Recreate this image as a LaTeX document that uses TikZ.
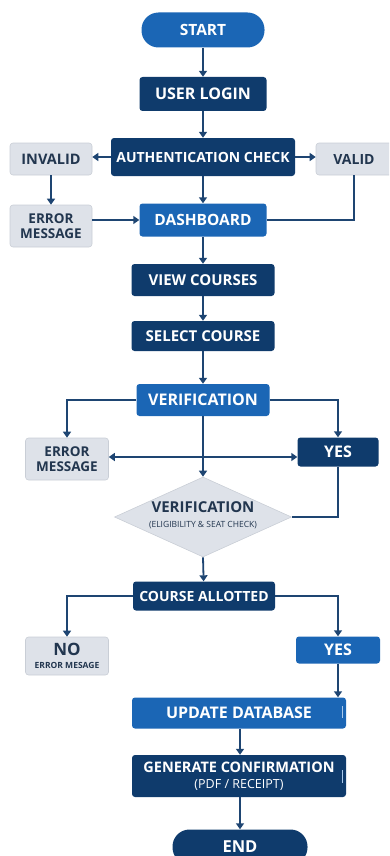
\documentclass[tikz,border=0pt]{standalone}
\usepackage{fontspec}
\setmainfont{Open Sans}
\usetikzlibrary{arrows.meta,shapes.geometric}
\definecolor{navy}{HTML}{0F3B6C}
\definecolor{bright}{HTML}{1B66B5}
\definecolor{pale}{HTML}{DEE2E9}
\definecolor{paleedge}{HTML}{C9CED6}
\definecolor{paletext}{HTML}{22364F}
\definecolor{wire}{HTML}{1E4572}
\definecolor{glint}{HTML}{A9C9EC}
\begin{document}
\begin{tikzpicture}[x=1pt,y=-1pt,
  base/.style={rectangle, rounded corners=3pt, inner sep=2pt, align=center, font=\bfseries},
  navybox/.style={base, fill=navy, text=white},
  bluebox/.style={base, fill=bright, text=white},
  greybox/.style={base, fill=pale, text=paletext, draw=paleedge, line width=0.6pt},
  terminal/.style={base, fill=bright, text=white, rounded corners=17pt},
  wireline/.style={draw=wire, line width=1.8pt},
  arrow/.style={wireline, -{Triangle[length=6pt,width=8pt]}},
  twoway/.style={wireline, {Triangle[length=6pt,width=8pt]}-{Triangle[length=6pt,width=8pt]}},
  sizes/.style 2 args={minimum width=#1pt, minimum height=#2pt}
]
\useasboundingbox (0,0) rectangle (389,856);
\clip (0,0) rectangle (389,856);

% main column
\node[terminal, sizes={123}{35}, font=\fontsize{15.5}{16}\bfseries] (start) at (203,30) {START};
\node[navybox, sizes={127}{34}, font=\fontsize{16}{17}\bfseries] (login) at (203,94) {USER LOGIN};
\node[navybox, sizes={184}{38}, font=\fontsize{14}{15}\bfseries] (auth) at (203,157) {AUTHENTICATION CHECK};
\node[greybox, sizes={82}{32}, font=\fontsize{14.5}{15}\bfseries] (invalid) at (51,159) {INVALID};
\node[greybox, sizes={76}{32}, font=\fontsize{14}{15}\bfseries] (valid) at (354,159) {VALID};
\node[greybox, sizes={82}{42}, font=\fontsize{13.5}{15}\bfseries] (err1) at (51,226) {ERROR\\MESSAGE};
\node[bluebox, sizes={127}{33}, font=\fontsize{15.5}{16}\bfseries] (dash) at (203,220) {DASHBOARD};
\node[navybox, sizes={143}{32}, font=\fontsize{15}{16}\bfseries] (view) at (203,280) {VIEW COURSES};
\node[navybox, sizes={143}{30}, font=\fontsize{15}{16}\bfseries] (select) at (203,336) {SELECT COURSE};
\node[bluebox, sizes={133}{32}, font=\fontsize{16}{17}\bfseries] (verif) at (203,400) {VERIFICATION};
\node[greybox, sizes={83}{42}, font=\fontsize{13.5}{15}\bfseries] (err2) at (67,459) {ERROR\\MESSAGE};
\node[navybox, sizes={81}{29}, font=\fontsize{16}{17}\bfseries] (yes1) at (338,452) {YES};
\node[diamond, fill=pale, draw=paleedge, line width=0.6pt, inner sep=0pt, sizes={177}{80}, text=paletext] (check) at (203,517) {};
\node[text=paletext, align=center, font=\fontsize{15}{16}\bfseries] at (203,507) {VERIFICATION};
\node[text=paletext, align=center, font=\fontsize{8.5}{9}\selectfont] at (203,525) {(ELIGIBILITY \& SEAT CHECK)};
\node[navybox, sizes={142}{29}, font=\fontsize{14}{15}\bfseries] (allot) at (204,596) {COURSE ALLOTTED};
\node[greybox, sizes={83}{38}, font=\fontsize{17}{17}\bfseries] (no) at (67,656) {NO\\[-4pt]{\fontsize{8.5}{9}\bfseries ERROR MESAGE}};
\node[bluebox, sizes={84}{27}, font=\fontsize{16}{17}\bfseries] (yes2) at (338,650) {YES};
\node[bluebox, sizes={214}{31}, font=\fontsize{16}{17}\bfseries] (update) at (239,713) {UPDATE DATABASE};
\node[navybox, sizes={214}{42}, font=\fontsize{14.5}{15}\bfseries] (gen) at (239,776) {GENERATE CONFIRMATION\\[1pt]{\fontsize{12.5}{14}\mdseries (PDF / RECEIPT)}};
\node[terminal, fill=navy, sizes={135}{35}, font=\fontsize{16.5}{17}\bfseries] (end) at (240,847) {END};

% thin highlights near the right edge of the last two boxes
\draw[glint, line width=1pt] (342,706) -- (342,718);
\draw[glint, line width=1pt] (342,770) -- (342,783);

% connectors
\coordinate (cross) at (203,457);
\draw[arrow] (start) -- (login);
\draw[arrow] (login) -- (auth);
\draw[arrow] (auth.west) -- (auth.west -| invalid.east);
\draw[arrow] (auth.east) -- (auth.east -| valid.west);
\draw[arrow] (invalid) -- (err1);
\draw[arrow] (err1.east |- dash) -- (dash.west);
\draw[wireline] (valid.south) |- (dash.east);
\draw[arrow] (auth) -- (dash);
\draw[arrow] (dash) -- (view);
\draw[arrow] (view) -- (select);
\draw[arrow] (select) -- (verif);
\draw[arrow] (verif.west) -| (err2.north);
\draw[arrow] (verif.east) -| (yes1.north);
\draw[twoway] (cross -| err2.east) -- (cross -| yes1.west);
\draw[arrow] (verif) -- (check.north);
\draw[wireline] (yes1.south) |- (check.east);
\draw[arrow] (check.south) -- (allot);
\draw[arrow] (allot.west) -| (no.north);
\draw[arrow] (allot.east) -| (yes2.north);
\draw[arrow] (yes2.south) -- (yes2.south |- update.north);
\draw[arrow] (update.south -| end) -- (gen.north -| end);
\draw[arrow] (gen.south -| end) -- (end);
\end{tikzpicture}
\end{document}
